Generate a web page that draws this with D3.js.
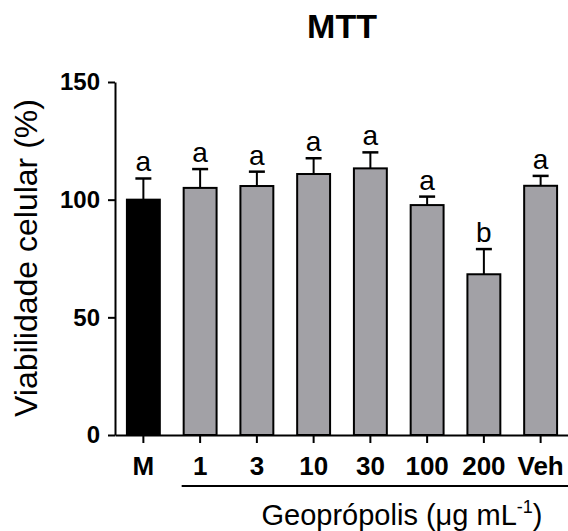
<!DOCTYPE html>
<html>
<head>
<meta charset="utf-8">
<script src="https://cdn.jsdelivr.net/npm/d3@7"></script>
<style>
  body { margin: 0; background: #fff; }
  text { font-family: Arial, "Liberation Sans", sans-serif; }
</style>
</head>
<body>
<div id="wrapper"></div>
<script>
// values
const categories = ["M", "1", "3", "10", "30", "100", "200", "Veh"];
const means = [100, 105, 105.8, 110.9, 113.3, 97.7, 68.3, 105.9];
const errors = [9, 8, 6.1, 6.7, 6.8, 3.6, 10.7, 4.2];
const letters = ["a", "a", "a", "a", "a", "a", "b", "a"];
const yTicks = [0, 50, 100, 150];

const data = categories.map((c, i) => ({
    cat: c, mean: means[i], err: errors[i], letter: letters[i]
}));

const dimensions = {
    width: 568,
    height: 531,
    margin: { top: 82, right: -1, bottom: 96, left: 115 }
};
dimensions.boundedWidth = dimensions.width - dimensions.margin.left - dimensions.margin.right;
dimensions.boundedHeight = dimensions.height - dimensions.margin.top - dimensions.margin.bottom;

const svg = d3.select("#wrapper")
    .append("svg")
    .attr("width", dimensions.width)
    .attr("height", dimensions.height);

const bounds = svg.append("g")
    .attr("transform", `translate(${dimensions.margin.left},${dimensions.margin.top})`);

const xScale = d3.scaleBand()
    .domain(categories)
    .range([0, dimensions.boundedWidth])
    .paddingInner(0.42)
    .paddingOuter(0.21);

const yScale = d3.scaleLinear()
    .domain([0, 150])
    .range([dimensions.boundedHeight, 0]);

// bars
bounds.selectAll(".bar")
    .data(data)
    .enter()
    .append("rect")
    .attr("class", "bar")
    .attr("x", d => xScale(d.cat))
    .attr("y", d => yScale(d.mean))
    .attr("width", xScale.bandwidth())
    .attr("height", d => yScale(0) - yScale(d.mean))
    .attr("fill", d => d.cat === "M" ? "#000" : "#a2a1a6")
    .attr("stroke", "#000")
    .attr("stroke-width", 2);

// error bars (upper only)
const capW = 16;
const err = bounds.selectAll(".err")
    .data(data)
    .enter()
    .append("g")
    .attr("class", "err")
    .attr("transform", d => `translate(${xScale(d.cat) + xScale.bandwidth() / 2},0)`);

err.append("line")
    .attr("y1", d => yScale(d.mean))
    .attr("y2", d => yScale(d.mean + d.err))
    .attr("stroke", "#000")
    .attr("stroke-width", 2);

err.append("line")
    .attr("x1", -capW / 2)
    .attr("x2", capW / 2)
    .attr("y1", d => yScale(d.mean + d.err))
    .attr("y2", d => yScale(d.mean + d.err))
    .attr("stroke", "#000")
    .attr("stroke-width", 2.5);

err.append("text")
    .attr("y", d => yScale(d.mean + d.err) - 7)
    .attr("text-anchor", "middle")
    .attr("font-size", 28)
    .text(d => d.letter);

// axes
const yAxis = bounds.append("g")
    .call(d3.axisLeft(yScale).tickValues(yTicks).tickSize(7).tickSizeOuter(0).tickPadding(8));

const xAxis = bounds.append("g")
    .attr("transform", `translate(0,${dimensions.boundedHeight})`)
    .call(d3.axisBottom(xScale).tickSize(8).tickSizeOuter(0).tickPadding(14));

[yAxis, xAxis].forEach(ax => {
    ax.select(".domain").attr("stroke-width", 2);
    ax.selectAll(".tick line").attr("stroke-width", 2);
    ax.selectAll(".tick text")
        .attr("fill", "#000")
        .attr("font-weight", "bold")
        .attr("font-family", "Arial, 'Liberation Sans', sans-serif");
});
yAxis.selectAll(".tick text").attr("font-size", 24);
xAxis.selectAll(".tick text").attr("font-size", 26);

// bracket under the geopropolis groups
const bracketY = dimensions.boundedHeight + 51;
bounds.append("line")
    .attr("x1", xScale("1") - 2)
    .attr("x2", dimensions.boundedWidth)
    .attr("y1", bracketY)
    .attr("y2", bracketY)
    .attr("stroke", "#000")
    .attr("stroke-width", 2);

const xLabel = svg.append("text")
    .attr("x", 402)
    .attr("y", 525)
    .attr("text-anchor", "middle")
    .attr("font-size", 29);
xLabel.append("tspan").text("Geoprópolis (μg mL");
xLabel.append("tspan").attr("font-size", 18).attr("dy", -12).text("-1");
xLabel.append("tspan").attr("dy", 12).text(")");

// y title
svg.append("text")
    .attr("transform", "translate(37,258) rotate(-90)")
    .attr("text-anchor", "middle")
    .attr("font-size", 32)
    .text("Viabilidade celular (%)");

// title
svg.append("text")
    .attr("x", 342)
    .attr("y", 38)
    .attr("text-anchor", "middle")
    .attr("font-size", 34)
    .attr("font-weight", "bold")
    .text("MTT");
</script>
</body>
</html>
